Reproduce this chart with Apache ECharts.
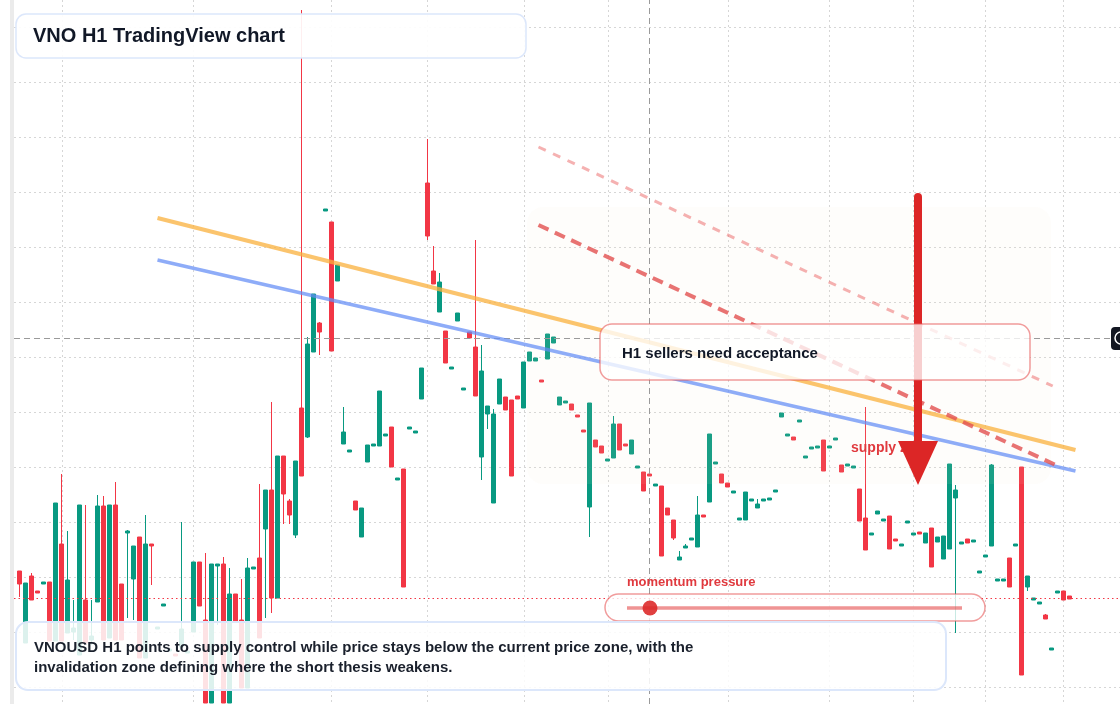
<!DOCTYPE html>
<html>
<head>
<meta charset="utf-8">
<title>VNO H1 TradingView chart</title>
<script src="https://cdn.jsdelivr.net/npm/echarts@6/dist/echarts.min.js"></script>
<style>
  html, body { margin: 0; padding: 0; background: #fff; }
  #chart { width: 1120px; height: 704px; }
</style>
</head>
<body>
<div id="chart"></div>
<script>
// VNO hourly bars (one entry per H1 candle)
const opens = [
  34.16, 33.44, 34.11, 33.96, 34.03, 34.05, 33.46, 34.43, 33.54, 33.55,
  33.32, 33.87, 33.47, 33.85, 34.81, 33.49, 34.82, 34.03, 34.54, 34.08,
  34.50, 33.29, 34.43, 33.58, 33.81, 33.36, 33.33, 33.40, 33.34, 33.55,
  34.25, 33.67, 32.84, 34.21, 34.23, 32.84, 33.93, 33.67, 32.99, 34.18,
  34.29, 34.58, 34.97, 33.89, 35.31, 34.86, 34.52, 35.79, 35.50, 36.35,
  36.64, 37.76, 37.65, 37.06, 35.43, 35.35, 34.86, 34.50, 35.25, 35.41,
  35.41, 35.51, 35.60, 35.07, 35.18, 35.58, 35.54, 35.88, 38.04, 37.16,
  36.75, 36.56, 36.18, 36.66, 35.97, 36.55, 36.40, 35.30, 35.73, 34.84,
  35.83, 35.90, 35.87, 35.91, 35.79, 36.26, 36.26, 36.07, 36.28, 36.44,
  35.82, 35.84, 35.83, 35.72, 35.57, 34.80, 35.47, 35.41, 35.26, 35.29,
  35.63, 35.43, 35.33, 35.19, 35.15, 35.13, 35.01, 35.01, 34.79, 34.67,
  34.27, 34.39, 34.47, 34.40, 34.72, 34.85, 35.23, 35.13, 35.04, 34.94,
  34.67, 34.67, 34.86, 34.79, 34.86, 34.87, 34.95, 35.70, 35.51, 35.50,
  35.65, 35.29, 35.38, 35.39, 35.47, 35.39, 35.47, 35.22, 35.21, 35.19,
  34.98, 34.69, 34.52, 34.73, 34.66, 34.71, 34.48, 34.41, 34.64, 34.52,
  34.55, 34.44, 34.59, 34.45, 34.28, 34.38, 34.89, 34.43, 34.48, 34.45,
  34.14, 34.30, 34.41, 34.06, 34.06, 34.29, 34.41, 35.20, 34.00, 33.87,
  33.83, 33.72, 33.37, 33.94, 33.96, 33.91
];
const closes = [
  34.03, 34.04, 33.87, 33.94, 34.05, 33.46, 34.84, 33.46, 34.07, 33.59,
  34.82, 33.44, 33.51, 34.81, 33.47, 34.82, 33.47, 33.47, 34.56, 34.41,
  33.29, 34.43, 34.41, 33.60, 33.83, 33.38, 33.31, 33.58, 33.36, 34.25,
  33.81, 32.84, 34.23, 34.23, 32.84, 33.93, 33.66, 32.99, 34.19, 34.20,
  33.49, 34.97, 33.89, 35.31, 34.93, 34.72, 35.26, 35.11, 36.43, 36.93,
  36.55, 37.78, 36.36, 37.22, 35.55, 35.37, 34.77, 34.79, 35.42, 35.43,
  35.96, 35.53, 35.20, 35.09, 34.00, 35.60, 35.56, 36.19, 37.51, 37.03,
  37.05, 36.24, 36.20, 36.74, 35.99, 36.49, 35.91, 36.16, 35.81, 35.73,
  36.08, 35.77, 35.11, 35.88, 36.25, 36.35, 36.29, 36.05, 36.53, 36.50,
  35.90, 35.86, 35.77, 35.70, 35.55, 35.84, 35.40, 35.34, 35.28, 35.63,
  35.37, 35.41, 35.47, 35.21, 34.96, 35.11, 35.03, 34.31, 34.72, 34.49,
  34.30, 34.41, 34.49, 34.72, 34.70, 35.53, 35.25, 35.04, 35.00, 34.96,
  34.69, 34.95, 34.88, 34.83, 34.88, 34.89, 34.97, 35.74, 35.53, 35.47,
  35.67, 35.31, 35.40, 35.41, 35.16, 35.41, 35.49, 35.15, 35.23, 35.21,
  34.66, 34.37, 34.54, 34.76, 34.68, 34.38, 34.46, 34.43, 34.66, 34.54,
  34.53, 34.54, 34.20, 34.50, 34.51, 35.23, 34.97, 34.45, 34.44, 34.47,
  34.16, 34.32, 35.22, 34.08, 34.08, 34.00, 34.43, 33.12, 34.11, 33.89,
  33.85, 33.68, 33.39, 33.96, 33.87, 33.88
];
const lows = [
  33.90, 33.44, 33.87, 33.94, 34.03, 33.46, 33.46, 33.46, 33.54, 33.47,
  33.32, 33.44, 33.42, 33.85, 33.47, 33.49, 33.47, 33.47, 33.69, 33.67,
  33.29, 33.29, 34.02, 33.58, 33.81, 33.36, 33.31, 33.40, 33.34, 33.55,
  33.81, 32.84, 32.84, 33.62, 32.84, 32.84, 33.66, 32.99, 32.99, 34.18,
  33.49, 33.69, 33.74, 33.89, 34.63, 34.63, 34.49, 35.11, 35.49, 36.35,
  36.32, 37.76, 36.36, 37.06, 35.43, 35.35, 34.77, 34.50, 35.25, 35.41,
  35.41, 35.51, 35.20, 35.07, 34.00, 35.58, 35.54, 35.88, 37.47, 37.03,
  36.75, 36.24, 36.18, 36.66, 35.97, 36.49, 35.91, 35.07, 35.58, 34.84,
  35.83, 35.77, 35.11, 35.88, 35.79, 36.26, 36.26, 36.05, 36.28, 36.44,
  35.82, 35.84, 35.77, 35.70, 35.55, 34.50, 35.40, 35.34, 35.26, 35.29,
  35.37, 35.41, 35.33, 35.19, 34.96, 35.11, 35.01, 34.31, 34.72, 34.47,
  34.27, 34.39, 34.47, 34.40, 34.70, 34.85, 35.23, 35.04, 35.00, 34.94,
  34.67, 34.67, 34.86, 34.79, 34.86, 34.87, 34.95, 35.70, 35.51, 35.47,
  35.65, 35.29, 35.38, 35.39, 35.16, 35.39, 35.47, 35.15, 35.21, 35.19,
  34.66, 34.37, 34.52, 34.73, 34.66, 34.38, 34.46, 34.41, 34.64, 34.52,
  34.53, 34.44, 34.20, 34.45, 34.28, 34.38, 33.54, 34.43, 34.44, 34.45,
  34.14, 34.30, 34.41, 34.06, 34.06, 34.00, 34.41, 33.12, 33.96, 33.87,
  33.83, 33.68, 33.37, 33.94, 33.87, 33.88
];
const highs = [
  34.16, 34.04, 34.14, 33.96, 34.05, 34.05, 34.84, 35.13, 34.56, 33.87,
  34.82, 34.82, 33.87, 34.92, 34.91, 34.82, 35.05, 34.03, 34.57, 34.41,
  34.50, 34.72, 34.43, 33.60, 33.83, 33.38, 33.33, 34.65, 33.36, 34.25,
  34.25, 34.34, 34.23, 34.23, 34.30, 34.19, 33.93, 34.08, 34.29, 34.20,
  35.03, 34.97, 35.85, 35.31, 35.31, 34.88, 35.26, 39.77, 36.50, 36.93,
  36.65, 37.78, 37.65, 37.22, 35.80, 35.37, 34.86, 34.79, 35.42, 35.43,
  35.96, 35.53, 35.60, 35.09, 35.18, 35.60, 35.56, 36.19, 38.48, 37.41,
  37.14, 36.56, 36.20, 36.74, 35.99, 36.55, 37.47, 36.42, 35.81, 35.78,
  36.08, 35.90, 35.87, 35.91, 36.25, 36.35, 36.29, 36.07, 36.53, 36.50,
  35.90, 35.86, 35.83, 35.72, 35.57, 35.84, 35.47, 35.41, 35.28, 35.71,
  35.63, 35.43, 35.47, 35.21, 35.15, 35.13, 35.03, 35.01, 34.79, 34.67,
  34.36, 34.43, 34.49, 34.91, 34.72, 35.53, 35.25, 35.13, 35.04, 34.96,
  34.69, 34.95, 34.88, 34.88, 34.88, 34.89, 34.97, 35.74, 35.53, 35.50,
  35.67, 35.31, 35.40, 35.41, 35.47, 35.41, 35.49, 35.22, 35.23, 35.21,
  34.98, 35.80, 34.54, 34.76, 34.68, 34.71, 34.48, 34.43, 34.66, 34.54,
  34.55, 34.54, 34.59, 34.50, 34.51, 35.23, 35.02, 34.45, 34.48, 34.47,
  34.16, 34.32, 35.23, 34.08, 34.08, 34.29, 34.43, 35.20, 34.11, 33.89,
  33.85, 33.73, 33.39, 33.96, 33.96, 33.91
];

// price grid and session separators (bar index)
const gridPrices = [33.00, 33.55, 34.10, 34.65, 35.20, 35.75, 36.30, 36.85, 37.40, 37.95, 38.50, 39.05, 39.60];
const sessionTicks = [7.1, 29, 52, 68, 84.1, 98.1, 118.1, 135, 149, 161, 174];

const lastPrice = 33.89;
const crossPrice = 36.49;
const crossBar = 105;

// drawn trendlines: [bar index, price]
const overheadLine = [[23, 37.69], [176, 35.37]];
const trendLine = [[23, 37.27], [176, 35.16]];
const supplyLine = [[86.5, 37.62], [172.7, 35.22]];
const upperSupplyLine = [[86.5, 38.40], [172.2, 36.01]];

const UP = '#089981';
const DOWN = '#f23645';
const FONT = '"Liberation Sans", Arial, sans-serif';

const bars = opens.map((o, i) => [i, o, closes[i], lows[i], highs[i]]);

const chart = echarts.init(document.getElementById('chart'));

const option = {
  animation: false,
  backgroundColor: '#ffffff',
  grid: { left: 14, right: 0, top: 0, bottom: 0 },
  xAxis: {
    type: 'value',
    min: -0.9167,
    max: 183.4167,
    axisLine: { show: false },
    axisLabel: { show: false },
    axisTick: { show: false, customValues: sessionTicks },
    splitLine: { show: true, customValues: sessionTicks, lineStyle: { color: '#d6d6d6', type: [2, 3], width: 1 } }
  },
  yAxis: {
    type: 'value',
    min: 32.83,
    max: 39.87,
    axisLine: { show: false },
    axisLabel: { show: false },
    axisTick: { show: false, customValues: gridPrices },
    splitLine: { show: true, customValues: gridPrices, lineStyle: { color: '#d6d6d6', type: [2, 3], width: 1 } }
  },
  series: [
    {
      type: 'candlestick',
      name: 'VNO',
      z: 2,
      clip: false,
      barWidth: 4,
      silent: true,
      data: bars,
      itemStyle: {
        color: UP, color0: DOWN,
        borderColor: UP, borderColor0: DOWN,
        borderWidth: 1
      },
      markLine: {
        silent: true,
        symbol: ['none', 'none'],
        label: { show: false },
        data: [
          { xAxis: crossBar, lineStyle: { color: '#9a9a9a', type: [6, 4], width: 1 } },
          { yAxis: crossPrice, lineStyle: { color: '#9a9a9a', type: [6, 4], width: 1 } },
          { yAxis: lastPrice, lineStyle: { color: '#f23645', type: [1.5, 3], width: 1 } }
        ]
      }
    },
    {
      type: 'line', name: 'overhead', z: 5, silent: true, symbol: 'none',
      data: overheadLine,
      lineStyle: { color: 'rgba(250,176,60,0.75)', width: 4 }
    },
    {
      type: 'line', name: 'trend', z: 5, silent: true, symbol: 'none',
      data: trendLine,
      lineStyle: { color: 'rgba(98,140,245,0.72)', width: 3.5 }
    },
    {
      type: 'line', name: 'supply', z: 5, silent: true, symbol: 'none',
      data: supplyLine,
      lineStyle: { color: 'rgba(226,80,80,0.8)', width: 4, type: [11, 7] }
    },
    {
      type: 'line', name: 'upperSupply', z: 5, silent: true, symbol: 'none',
      data: upperSupplyLine,
      lineStyle: { color: 'rgba(236,100,100,0.5)', width: 3, type: [8, 8] }
    }
  ],
  graphic: {
    elements: [
      // left pane edge
      { type: 'rect', z: 1, silent: true, shape: { x: 10, y: 0, width: 4, height: 704 }, style: { fill: '#ebebeb' } },
      // supply zone wash
      { type: 'rect', z: 3, silent: true, shape: { x: 527, y: 207, width: 524, height: 277, r: 16 }, style: { fill: 'rgba(245,225,210,0.08)' } },
      { type: 'text', z: 6, silent: true, x: 851, y: 448,
        style: { text: 'supply zone', fill: '#e0393e', font: 'bold 14px ' + FONT, verticalAlign: 'middle' } },
      // down arrow
      { type: 'rect', z: 7, silent: true, shape: { x: 914, y: 193, width: 8, height: 252, r: [4, 4, 0, 0] }, style: { fill: '#dc2626' } },
      { type: 'polygon', z: 7, silent: true, shape: { points: [[898, 441], [938, 441], [918, 485]] }, style: { fill: '#dc2626' } },
      // callout
      { type: 'rect', z: 8, silent: true, shape: { x: 600, y: 324, width: 430, height: 56, r: 12 },
        style: { fill: 'rgba(255,255,255,0.78)', stroke: 'rgba(232,90,90,0.6)', lineWidth: 1.5 } },
      { type: 'text', z: 9, silent: true, x: 622, y: 354,
        style: { text: 'H1 sellers need acceptance', fill: '#111827', font: 'bold 15px ' + FONT, verticalAlign: 'middle' } },
      // momentum gauge
      { type: 'text', z: 9, silent: true, x: 627, y: 582,
        style: { text: 'momentum pressure', fill: '#e0393e', font: 'bold 13px ' + FONT, verticalAlign: 'middle' } },
      { type: 'rect', z: 8, silent: true, shape: { x: 605, y: 594, width: 380, height: 27, r: 13.5 },
        style: { fill: 'rgba(255,255,255,0.78)', stroke: 'rgba(232,90,90,0.6)', lineWidth: 1.5 } },
      { type: 'line', z: 9, silent: true, shape: { x1: 627, y1: 608, x2: 962, y2: 608 },
        style: { stroke: 'rgba(225,60,60,0.55)', lineWidth: 3.5 } },
      { type: 'circle', z: 9, silent: true, shape: { cx: 650, cy: 608, r: 7.5 }, style: { fill: 'rgba(220,38,38,0.88)' } },
      // title
      { type: 'rect', z: 10, silent: true, shape: { x: 16, y: 14, width: 510, height: 44, r: 10 },
        style: { fill: 'rgba(255,255,255,0.92)', stroke: '#dce7fb', lineWidth: 1.5 } },
      { type: 'text', z: 11, silent: true, x: 33, y: 36,
        style: { text: 'VNO H1 TradingView chart', fill: '#111827', font: 'bold 20px ' + FONT, verticalAlign: 'middle' } },
      // summary box
      { type: 'rect', z: 10, silent: true, shape: { x: 16, y: 622, width: 930, height: 68, r: 12 },
        style: { fill: 'rgba(255,255,255,0.86)', stroke: '#dce7fb', lineWidth: 2 } },
      { type: 'text', z: 11, silent: true, x: 34, y: 648,
        style: { text: 'VNOUSD H1 points to supply control while price stays below the current price zone, with the', fill: '#1a202c', font: 'bold 15px ' + FONT, verticalAlign: 'middle' } },
      { type: 'text', z: 11, silent: true, x: 34, y: 668,
        style: { text: 'invalidation zone defining where the short thesis weakens.', fill: '#1a202c', font: 'bold 15px ' + FONT, verticalAlign: 'middle' } },
      // crosshair price tag (cut at the edge)
      { type: 'rect', z: 11, silent: true, shape: { x: 1111, y: 327, width: 16, height: 23, r: 4 }, style: { fill: '#131722' } },
      { type: 'circle', z: 12, silent: true, shape: { cx: 1121, cy: 338, r: 6 }, style: { fill: 'none', stroke: '#ffffff', lineWidth: 1.5 } }
    ]
  }
};

chart.setOption(option);
window.addEventListener('resize', () => chart.resize());
</script>
</body>
</html>
